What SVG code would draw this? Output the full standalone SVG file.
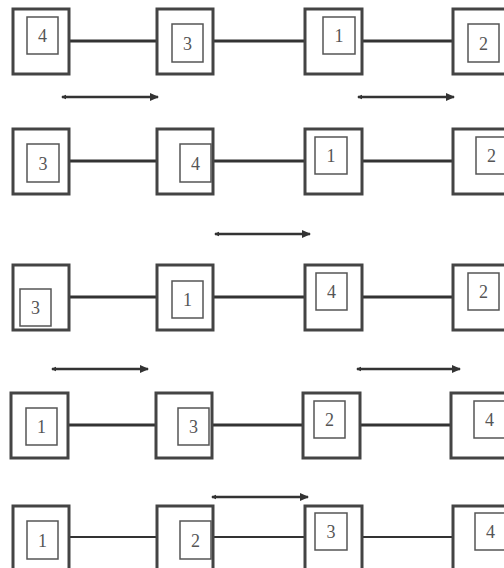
<svg xmlns="http://www.w3.org/2000/svg" width="504" height="568" viewBox="0 0 504 568">
<defs>
<style>
.outer{fill:#fff;stroke:#444;stroke-width:3}
.inner{fill:#fff;stroke:#555;stroke-width:1.5}
.lbl{font-family:"Liberation Serif","Times New Roman",serif;font-size:18px;fill:#555;text-anchor:middle}
.link{stroke:#333;stroke-width:3;fill:none}
.thin{stroke-width:2}
.arr{stroke:#333;stroke-width:2.5;fill:none;marker-start:url(#ms);marker-end:url(#me)}
</style>
<marker id="me" markerUnits="userSpaceOnUse" markerWidth="10" markerHeight="10" refX="8" refY="5" orient="auto">
<path d="M0,1 L9,5 L0,9 Z" fill="#333"/>
</marker>
<marker id="ms" markerUnits="userSpaceOnUse" markerWidth="6" markerHeight="6" refX="1" refY="3" orient="auto">
<path d="M0,3 L5,0.8 L5,5.2 Z" fill="#333"/>
</marker>
</defs>
<rect width="504" height="568" fill="#fff"/>
<g id="connectors">
<line class="link" x1="69" y1="41" x2="157" y2="41"/>
<line class="link" x1="213" y1="41" x2="305" y2="41"/>
<line class="link" x1="362" y1="41" x2="453" y2="41"/>
<line class="link" x1="69" y1="161" x2="157" y2="161"/>
<line class="link" x1="213" y1="161" x2="305" y2="161"/>
<line class="link" x1="362" y1="161" x2="453" y2="161"/>
<line class="link" x1="69" y1="297" x2="157" y2="297"/>
<line class="link" x1="213" y1="297" x2="305" y2="297"/>
<line class="link" x1="362" y1="297" x2="453" y2="297"/>
<line class="link" x1="68" y1="425" x2="156" y2="425"/>
<line class="link" x1="212" y1="425" x2="303" y2="425"/>
<line class="link" x1="360" y1="425" x2="451" y2="425"/>
<line class="link thin" x1="69" y1="537" x2="157" y2="537"/>
<line class="link thin" x1="213" y1="537" x2="305" y2="537"/>
<line class="link thin" x1="362" y1="537" x2="453" y2="537"/>
<line class="arr" x1="62" y1="97" x2="158" y2="97"/>
<line class="arr" x1="358" y1="97" x2="454" y2="97"/>
<line class="arr" x1="215" y1="234" x2="310" y2="234"/>
<line class="arr" x1="52" y1="369" x2="148" y2="369"/>
<line class="arr" x1="357" y1="369" x2="460" y2="369"/>
<line class="arr" x1="212" y1="497" x2="308" y2="497"/>
</g>
<g id="r1n4"><rect class="outer" x="13" y="9" width="56" height="65"/><rect class="inner" x="27" y="17" width="31" height="37"/><text class="lbl" x="42.5" y="41.5">4</text></g>
<g id="r1n3"><rect class="outer" x="157" y="9" width="56" height="65"/><rect class="inner" x="172" y="24" width="31" height="38"/><text class="lbl" x="187.5" y="49.5">3</text></g>
<g id="r1n1"><rect class="outer" x="305" y="9" width="57" height="65"/><rect class="inner" x="323" y="17" width="32" height="37"/><text class="lbl" x="339" y="41.5">1</text></g>
<g id="r1n2"><rect class="outer" x="453" y="9" width="56" height="65"/><rect class="inner" x="468" y="24" width="31" height="38"/><text class="lbl" x="483.5" y="49.5">2</text></g>

<g id="r2n3"><rect class="outer" x="13" y="129" width="56" height="65"/><rect class="inner" x="27" y="144" width="32" height="38"/><text class="lbl" x="43" y="169.5">3</text></g>
<g id="r2n4"><rect class="outer" x="157" y="129" width="56" height="65"/><rect class="inner" x="180" y="144" width="31" height="38"/><text class="lbl" x="195.5" y="169.5">4</text></g>
<g id="r2n1"><rect class="outer" x="305" y="129" width="57" height="65"/><rect class="inner" x="315" y="137" width="32" height="37"/><text class="lbl" x="331" y="161.5">1</text></g>
<g id="r2n2"><rect class="outer" x="453" y="129" width="56" height="65"/><rect class="inner" x="476" y="137" width="31" height="37"/><text class="lbl" x="491.5" y="161.5">2</text></g>

<g id="r3n3"><rect class="outer" x="13" y="265" width="56" height="65"/><rect class="inner" x="20" y="289" width="31" height="37"/><text class="lbl" x="35.5" y="313.5">3</text></g>
<g id="r3n1"><rect class="outer" x="157" y="265" width="56" height="65"/><rect class="inner" x="172" y="281" width="31" height="37"/><text class="lbl" x="187.5" y="305.5">1</text></g>
<g id="r3n4"><rect class="outer" x="305" y="265" width="57" height="65"/><rect class="inner" x="316" y="273" width="31" height="37"/><text class="lbl" x="331.5" y="297.5">4</text></g>
<g id="r3n2"><rect class="outer" x="453" y="265" width="56" height="65"/><rect class="inner" x="468" y="273" width="31" height="37"/><text class="lbl" x="483.5" y="297.5">2</text></g>

<g id="r4n1"><rect class="outer" x="11" y="393" width="57" height="65"/><rect class="inner" x="26" y="408" width="31" height="37"/><text class="lbl" x="41.5" y="432.5">1</text></g>
<g id="r4n3"><rect class="outer" x="156" y="393" width="56" height="65"/><rect class="inner" x="178" y="408" width="31" height="37"/><text class="lbl" x="193.5" y="432.5">3</text></g>
<g id="r4n2"><rect class="outer" x="303" y="393" width="57" height="65"/><rect class="inner" x="314" y="401" width="31" height="37"/><text class="lbl" x="329.5" y="425.5">2</text></g>
<g id="r4n4"><rect class="outer" x="451" y="393" width="57" height="65"/><rect class="inner" x="474" y="401" width="31" height="37"/><text class="lbl" x="489.5" y="425.5">4</text></g>

<g id="r5n1"><rect class="outer" x="13" y="506" width="56" height="70"/><rect class="inner" x="27" y="521" width="31" height="38"/><text class="lbl" x="42.5" y="546.5">1</text></g>
<g id="r5n2"><rect class="outer" x="157" y="506" width="56" height="70"/><rect class="inner" x="180" y="521" width="31" height="38"/><text class="lbl" x="195.5" y="546.5">2</text></g>
<g id="r5n3"><rect class="outer" x="305" y="506" width="57" height="70"/><rect class="inner" x="315" y="513" width="32" height="37"/><text class="lbl" x="331" y="537.5">3</text></g>
<g id="r5n4"><rect class="outer" x="453" y="506" width="56" height="70"/><rect class="inner" x="475" y="513" width="31" height="37"/><text class="lbl" x="490.5" y="537.5">4</text></g>
</svg>
